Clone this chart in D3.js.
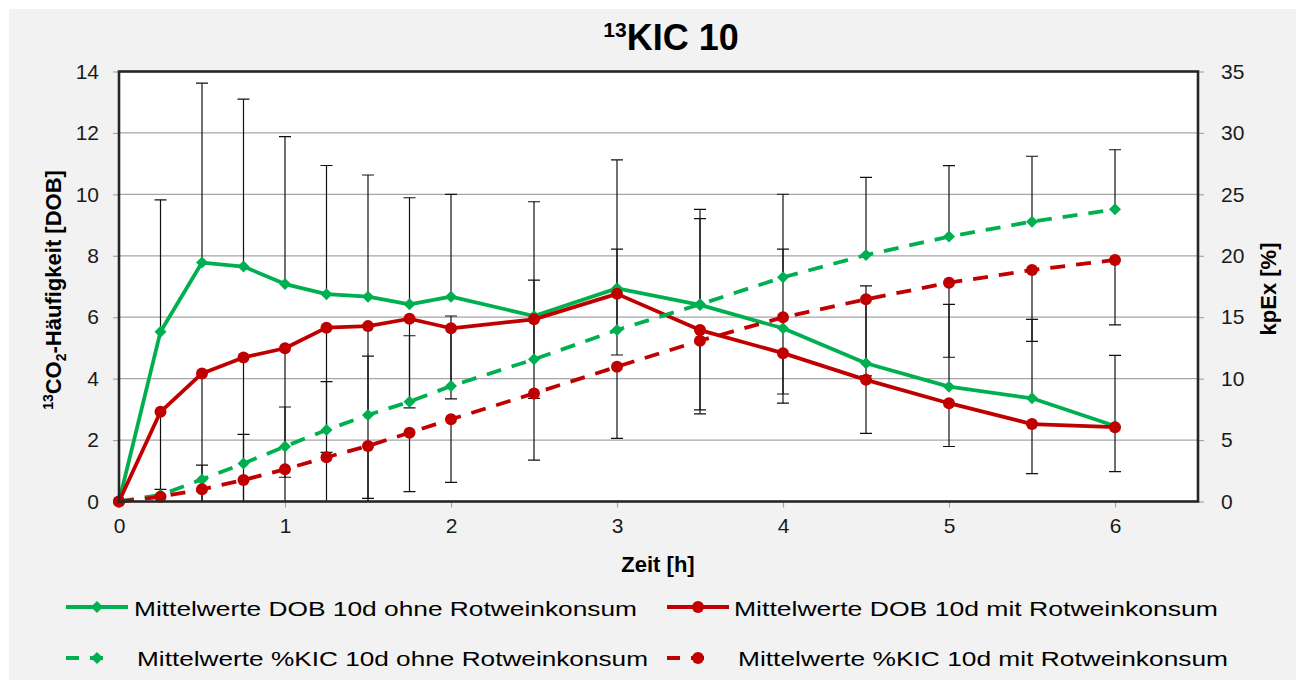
<!DOCTYPE html>
<html>
<head>
<meta charset="utf-8">
<script src="https://cdn.jsdelivr.net/npm/d3@7"></script>
<style>
  body { margin: 0; background: #ffffff; }
  svg { display: block; font-family: "Liberation Sans", Arial, sans-serif; }
</style>
</head>
<body>
<svg id="chart" width="1308" height="680"></svg>
<script>
// Time points (hours after intake)
const hours = [0, 0.25, 0.5, 0.75, 1, 1.25, 1.5, 1.75, 2, 2.5, 3, 3.5, 4, 4.5, 5, 5.5, 6];

// Mean DOB values (left axis)
const dobOhne = [0, 5.53, 7.78, 7.65, 7.08, 6.75, 6.67, 6.42, 6.67, 6.04, 6.94, 6.40, 5.64, 4.50, 3.74, 3.36, 2.46];
const dobMit  = [0, 2.92, 4.17, 4.69, 4.99, 5.66, 5.71, 5.95, 5.64, 5.93, 6.76, 5.58, 4.83, 3.96, 3.20, 2.52, 2.42];

// Cumulative %KIC values (right axis, kpEx %)
const kicOhne = [0, 0.53, 1.80, 3.10, 4.48, 5.82, 7.04, 8.12, 9.40, 11.57, 13.96, 16.05, 18.25, 20.06, 21.56, 22.78, 23.78];
const kicMit  = [0, 0.39, 0.99, 1.75, 2.62, 3.60, 4.52, 5.60, 6.69, 8.80, 10.97, 13.09, 14.99, 16.46, 17.81, 18.84, 19.66];

// Standard deviations: "ohne" series show the upper bar, "mit" series the lower bar
const dobOhneSD = [0, 4.29, 5.84, 5.45, 4.80, 4.19, 3.96, 3.47, 3.33, 3.72, 4.18, 2.81, 2.58, 2.52, 2.68, 2.57, 2.30];
const dobMitSD  = [0, 3.30, 4.60, 5.00, 4.20, 4.06, 5.61, 2.90, 2.30, 2.57, 1.99, 2.73, 1.63, 1.74, 1.41, 1.61, 1.45];
const kicOhneSD = [0, 0.45, 1.16, 2.36, 3.21, 3.93, 4.80, 5.37, 5.70, 6.45, 6.59, 7.73, 6.76, 6.32, 5.78, 5.32, 4.85];
const kicMitSD  = [0, 0.80, 1.60, 2.40, 3.00, 3.80, 4.70, 4.80, 5.13, 5.43, 5.83, 5.64, 6.24, 6.24, 6.07, 5.80, 5.29];

// Axis ticks
const xTicks = [0, 1, 2, 3, 4, 5, 6];
const leftTicks = [0, 2, 4, 6, 8, 10, 12, 14];
const rightTicks = [0, 5, 10, 15, 20, 25, 30, 35];

// Legend labels
const seriesLabels = [
  "Mittelwerte DOB 10d ohne Rotweinkonsum",
  "Mittelwerte DOB 10d mit Rotweinkonsum",
  "Mittelwerte %KIC 10d ohne Rotweinkonsum",
  "Mittelwerte %KIC 10d mit Rotweinkonsum"
];

const GREEN = "#00b050";
const RED = "#c00000";

const svg = d3.select("#chart");
const plot = { left: 119, right: 1198, top: 71.5, bottom: 501.5 };

const x = d3.scaleLinear().domain([0, 6.5]).range([plot.left, plot.right]);
const yL = d3.scaleLinear().domain([0, 14]).range([plot.bottom, plot.top]);
const yR = d3.scaleLinear().domain([0, 35]).range([plot.bottom, plot.top]);

// Chart background
svg.append("rect").attr("x", 9).attr("y", 9).attr("width", 1287).attr("height", 680).attr("fill", "#f2f2f2");

// Plot area
svg.append("rect")
  .attr("x", plot.left).attr("y", plot.top)
  .attr("width", plot.right - plot.left).attr("height", plot.bottom - plot.top)
  .attr("fill", "#ffffff");

svg.append("defs").append("clipPath").attr("id", "plotClip")
  .append("rect")
  .attr("x", plot.left).attr("y", plot.top)
  .attr("width", plot.right - plot.left).attr("height", plot.bottom - plot.top);

// Horizontal gridlines
svg.append("g").selectAll("line")
  .data(leftTicks.filter(t => t > 0 && t < 14))
  .join("line")
  .attr("x1", plot.left).attr("x2", plot.right)
  .attr("y1", d => yL(d)).attr("y2", d => yL(d))
  .attr("stroke", "#a6a6a6").attr("stroke-width", 1.2);

// Axes
const styleAxis = (g) => {
  g.select(".domain").remove();
  g.selectAll(".tick line").attr("stroke", "#a6a6a6").attr("stroke-width", 1.2);
  g.selectAll(".tick text").attr("fill", "#1a1a1a").attr("font-size", 21)
    .attr("font-family", "'Liberation Sans', Arial, sans-serif");
};

svg.append("g").attr("transform", `translate(${plot.left},0)`)
  .call(d3.axisLeft(yL).tickValues(leftTicks).tickSize(6).tickPadding(14).tickFormat(d3.format("d")))
  .call(styleAxis);

svg.append("g").attr("transform", `translate(${plot.right},0)`)
  .call(d3.axisRight(yR).tickValues(rightTicks).tickSize(6).tickPadding(17).tickFormat(d3.format("d")))
  .call(styleAxis);

svg.append("g").attr("transform", `translate(0,${plot.bottom})`)
  .call(d3.axisBottom(x).tickValues(xTicks).tickSize(6).tickPadding(11).tickFormat(d3.format("d")))
  .call(styleAxis);

// Series definitions
const series = [
  { values: dobOhne, sd: dobOhneSD, dir: 1, y: yL, color: GREEN, dashed: false, marker: "diamond" },
  { values: dobMit,  sd: dobMitSD,  dir: -1, y: yL, color: RED, dashed: false, marker: "circle" },
  { values: kicOhne, sd: kicOhneSD, dir: 1, y: yR, color: GREEN, dashed: true, marker: "diamond" },
  { values: kicMit,  sd: kicMitSD,  dir: -1, y: yR, color: RED, dashed: true, marker: "circle" }
];

// Error bars
const errG = svg.append("g").attr("clip-path", "url(#plotClip)");
series.forEach(s => {
  const pts = hours.map((h, i) => ({ h, v: s.values[i], e: s.values[i] + s.dir * s.sd[i], sd: s.sd[i] }))
    .filter(p => p.sd > 0);
  const g = errG.append("g").attr("stroke", "#111").attr("stroke-width", 1.2);
  g.selectAll("line.bar").data(pts).join("line").attr("class", "bar")
    .attr("x1", p => x(p.h)).attr("x2", p => x(p.h))
    .attr("y1", p => s.y(p.v)).attr("y2", p => s.y(p.e));
  g.selectAll("line.cap").data(pts).join("line").attr("class", "cap")
    .attr("x1", p => x(p.h) - 6).attr("x2", p => x(p.h) + 6)
    .attr("y1", p => s.y(p.e)).attr("y2", p => s.y(p.e));
});

// Markers: diamonds are rotated squares, circles for the "mit" series
const diamond = d3.symbol(d3.symbolSquare).size(72);
function addMarker(g, type, color) {
  if (type === "diamond") {
    g.append("path").attr("d", diamond).attr("fill", color).attr("transform", "rotate(45)");
  } else {
    g.append("circle").attr("r", 6).attr("fill", color);
  }
}

// Lines and markers
series.forEach(s => {
  const line = d3.line().x((d, i) => x(hours[i])).y(d => s.y(d));
  svg.append("path").datum(s.values)
    .attr("d", line).attr("fill", "none")
    .attr("stroke", s.color).attr("stroke-width", 3.8)
    .attr("stroke-linejoin", "round")
    .attr("stroke-dasharray", s.dashed ? "15,11" : null);
  const mg = svg.append("g");
  s.values.forEach((v, i) => {
    const m = mg.append("g").attr("transform", `translate(${x(hours[i])},${s.y(v)})`);
    addMarker(m, s.marker, s.color);
  });
});

// Plot border
svg.append("rect")
  .attr("x", plot.left).attr("y", plot.top)
  .attr("width", plot.right - plot.left).attr("height", plot.bottom - plot.top)
  .attr("fill", "none").attr("stroke", "#262626").attr("stroke-width", 2.6);

// Title
const title = svg.append("text").attr("x", 671).attr("y", 50)
  .attr("text-anchor", "middle").attr("font-weight", "bold").attr("fill", "#000");
title.append("tspan").attr("font-size", 21).attr("dy", -13).text("13");
title.append("tspan").attr("font-size", 36).attr("dy", 13).text("KIC 10");

// Left axis title
const yTitle = svg.append("text")
  .attr("transform", "translate(61,290) rotate(-90)")
  .attr("text-anchor", "middle").attr("font-weight", "bold").attr("font-size", 22).attr("fill", "#000");
yTitle.append("tspan").attr("font-size", 14).attr("dy", -8).text("13");
yTitle.append("tspan").attr("dy", 8).text("CO");
yTitle.append("tspan").attr("font-size", 14).attr("dy", 5).text("2");
yTitle.append("tspan").attr("dy", -5).text("-Häufigkeit [DOB]");

// Right axis title
svg.append("text")
  .attr("transform", "translate(1276,289) rotate(-90)")
  .attr("text-anchor", "middle").attr("font-weight", "bold").attr("font-size", 22).attr("fill", "#000")
  .text("kpEx [%]");

// X axis title
svg.append("text").attr("x", 658).attr("y", 572)
  .attr("text-anchor", "middle").attr("font-weight", "bold").attr("font-size", 22).attr("fill", "#000")
  .text("Zeit [h]");

// Legend
const legendPos = [
  { lx: 66, ly: 607, tx: 134, ty: 616, w: 503 },
  { lx: 667, ly: 607, tx: 734, ty: 616, w: 484 },
  { lx: 66, ly: 658, tx: 137, ty: 666, w: 511 },
  { lx: 667, ly: 658, tx: 738, ty: 666, w: 490 }
];
series.forEach((s, i) => {
  const p = legendPos[i];
  const g = svg.append("g");
  const len = s.dashed ? 46 : 62;
  g.append("line").attr("x1", p.lx).attr("x2", p.lx + len).attr("y1", p.ly).attr("y2", p.ly)
    .attr("stroke", s.color).attr("stroke-width", 3.8)
    .attr("stroke-dasharray", s.dashed ? "13,11" : null);
  const m = g.append("g").attr("transform", `translate(${p.lx + 31},${p.ly})`);
  addMarker(m, s.marker, s.color);
  g.append("text").attr("x", p.tx).attr("y", p.ty)
    .attr("font-size", 21).attr("fill", "#000")
    .attr("textLength", p.w).attr("lengthAdjust", "spacingAndGlyphs")
    .text(seriesLabels[i]);
});
</script>
</body>
</html>
